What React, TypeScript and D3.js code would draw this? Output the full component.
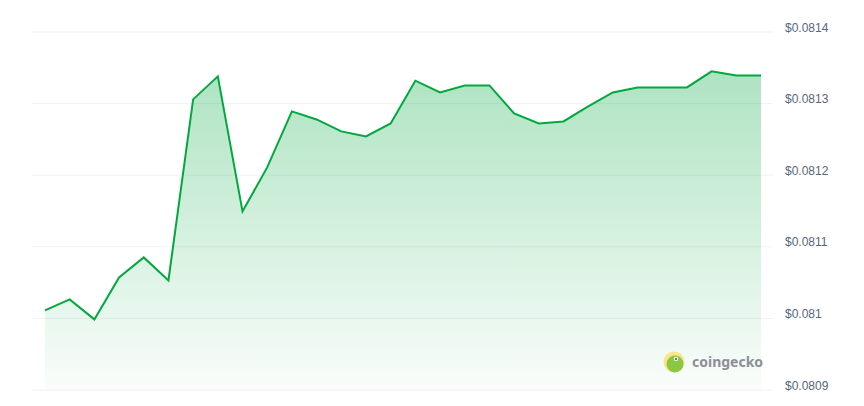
import React, { useEffect, useRef } from 'react';
import * as d3 from 'd3';

// price samples (oldest -> newest)
const prices = [
  0.0810112, 0.0810265, 0.0809986, 0.0810573, 0.0810852, 0.0810531,
  0.0813059, 0.081338, 0.0811494, 0.0812109, 0.0812891, 0.0812779,
  0.0812612, 0.0812542, 0.0812723, 0.081332, 0.0813156, 0.0813254,
  0.0813254, 0.0812863, 0.0812723, 0.0812751, 0.0812961, 0.0813156,
  0.0813226, 0.0813226, 0.0813226, 0.081345, 0.0813394, 0.0813394
];

const yTicks = [0.0809, 0.081, 0.0811, 0.0812, 0.0813, 0.0814];
const yTickLabels = ['$0.0809', '$0.081', '$0.0811', '$0.0812', '$0.0813', '$0.0814'];

const WIDTH = 864;
const HEIGHT = 406;
const LINE_COLOR = '#00a83e';

const PriceChart: React.FC = () => {
  const svgRef = useRef<SVGSVGElement>(null);

  useEffect(() => {
    if (!svgRef.current) return;
    const svg = d3.select(svgRef.current);
    svg.selectAll('*').remove();

    const x = d3.scaleLinear().domain([0, prices.length - 1]).range([45, 761]);
    const y = d3.scaleLinear().domain([0.0809, 0.0814]).range([390, 32]);

    const defs = svg.append('defs');
    const grad = defs.append('linearGradient')
      .attr('id', 'areaFill')
      .attr('x1', 0).attr('y1', 0).attr('x2', 0).attr('y2', 1);
    grad.append('stop').attr('offset', '0%').attr('stop-color', LINE_COLOR).attr('stop-opacity', 0.32);
    grad.append('stop').attr('offset', '100%').attr('stop-color', LINE_COLOR).attr('stop-opacity', 0.02);

    // gridlines
    svg.append('g')
      .selectAll('line')
      .data(yTicks)
      .enter()
      .append('line')
      .attr('x1', 32)
      .attr('x2', 773)
      .attr('y1', d => y(d))
      .attr('y2', d => y(d))
      .attr('stroke', '#eff2f5')
      .attr('stroke-width', 1);

    // area
    const area = d3.area<number>()
      .x((_, i) => x(i))
      .y0(y(0.0809))
      .y1(d => y(d));

    svg.append('path')
      .datum(prices)
      .attr('fill', 'url(#areaFill)')
      .attr('d', area);

    // line
    const line = d3.line<number>()
      .x((_, i) => x(i))
      .y(d => y(d));

    svg.append('path')
      .datum(prices)
      .attr('fill', 'none')
      .attr('stroke', LINE_COLOR)
      .attr('stroke-width', 2)
      .attr('stroke-linejoin', 'miter')
      .attr('d', line);

    // right axis labels
    svg.append('g')
      .selectAll('text')
      .data(yTicks)
      .enter()
      .append('text')
      .attr('x', 785)
      .attr('y', d => y(d) - 0.5)
      .attr('font-family', '"Liberation Sans", Arial, sans-serif')
      .attr('font-size', 12)
      .attr('fill', '#58667e')
      .text((_, i) => yTickLabels[i]);

    // watermark
    const logo = svg.append('g').attr('transform', 'translate(674,362)');
    logo.append('circle').attr('r', 10.5).attr('fill', '#f9e58c');
    logo.append('circle').attr('cx', 1).attr('cy', 2).attr('r', 8.5).attr('fill', '#8dc63f');
    logo.append('circle').attr('cx', 2).attr('cy', -3).attr('r', 2.2).attr('fill', '#fff');
    logo.append('circle').attr('cx', 2).attr('cy', -3).attr('r', 1).attr('fill', '#4a4a4a');
    svg.append('text')
      .attr('x', 692)
      .attr('y', 367)
      .attr('font-family', '"Noto Sans", "Open Sans", sans-serif')
      .attr('font-weight', 700)
      .attr('font-size', 14)
      .attr('fill', '#8e8e96')
      .text('coingecko');
  }, []);

  return (
    <svg ref={svgRef} width={WIDTH} height={HEIGHT} viewBox={`0 0 ${WIDTH} ${HEIGHT}`} style={{ display: 'block' }} />
  );
};

export default function App() {
  return (
    <div style={{ position: 'absolute', left: 0, top: 0, width: WIDTH, height: HEIGHT, background: '#fff' }}>
      <PriceChart />
    </div>
  );
}
